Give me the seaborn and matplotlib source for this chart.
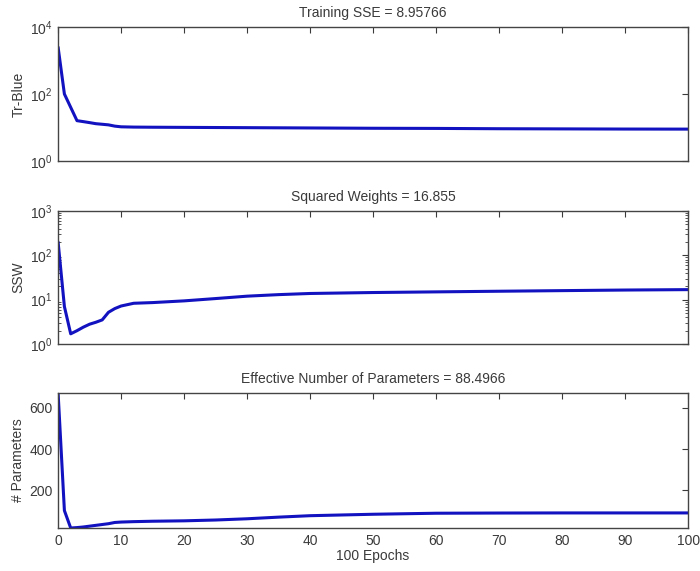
import matplotlib
matplotlib.use("Agg")
import matplotlib.pyplot as plt
import matplotlib.ticker as mticker
import seaborn as sns
import pandas as pd

epochs = [0, 1, 2, 3, 4, 5, 6, 7, 8, 9, 10, 12, 15, 20, 25, 30, 35, 40, 50, 60, 70, 80, 90, 100]
sse = [2500, 100, 40, 16, 15, 14, 13, 12.5, 12, 11, 10.5, 10.3, 10.2, 10.1, 10.0, 9.9, 9.8, 9.7, 9.5, 9.4, 9.2, 9.1, 9.0, 8.96]
ssw = [200, 7, 1.7, 2.0, 2.4, 2.8, 3.1, 3.5, 5.2, 6.3, 7.2, 8.3, 8.6, 9.4, 10.6, 12.0, 13.0, 13.8, 14.5, 15.0, 15.5, 16.0, 16.5, 16.855]
nparams = [673, 100, 15, 17, 20, 24, 28, 32, 36, 42, 44, 46, 48, 50, 54, 60, 68, 75, 82, 87, 88, 88.5, 88.5, 88.5]

titles = ["Training SSE = 8.95766", "Squared Weights = 16.855", "Effective Number of Parameters = 88.4966"]
ylabels = ["Tr-Blue", "SSW", "# Parameters"]
xlabel = "100 Epochs"
xticks = [0, 10, 20, 30, 40, 50, 60, 70, 80, 90, 100]

sns.set_style("white")
plt.rcParams['font.family'] = ['Liberation Sans', 'DejaVu Sans']
txt = "#3a3a3a"
plt.rcParams['text.color'] = txt
plt.rcParams['axes.labelcolor'] = txt
plt.rcParams['xtick.color'] = txt
plt.rcParams['ytick.color'] = txt

df = pd.DataFrame({"epoch": epochs, "sse": sse, "ssw": ssw, "np": nparams})

fig = plt.figure(figsize=(7.0, 5.71), dpi=100)
left, width = 0.083, 0.900
boxes = [(0.718, 0.2347), (0.3975, 0.233), (0.0753, 0.2364)]
cols = ["sse", "ssw", "np"]
line_color = "#1212c0"
fs = 10

for i, (b, h) in enumerate(boxes):
    ax = fig.add_axes([left, b, width, h])
    sns.lineplot(data=df, x="epoch", y=cols[i], ax=ax, color=line_color, linewidth=2.2)
    ax.set_xlim(0, 100)
    ax.set_xticks(xticks)
    ax.set_title(titles[i], fontsize=fs, color=txt, pad=7)
    ax.set_ylabel(ylabels[i], fontsize=fs, labelpad=3)
    for s in ax.spines.values():
        s.set_color("#444444")
        s.set_linewidth(1.0)
    ax.tick_params(direction="in", top=True, right=True, length=4, width=0.8, labelsize=fs, pad=4)
    ax.tick_params(which="minor", direction="in", left=True, top=True, right=True, length=2.5, width=0.6)
    if i == 0:
        ax.set_yscale("log")
        ax.set_ylim(1, 1e4)
        ax.set_yticks([1, 100, 1e4])
        ax.yaxis.set_major_formatter(mticker.LogFormatterMathtext())
        ax.yaxis.set_minor_locator(mticker.NullLocator())
    elif i == 1:
        ax.set_yscale("log")
        ax.set_ylim(1, 1e3)
        ax.set_yticks([1, 10, 100, 1000])
        ax.yaxis.set_major_formatter(mticker.LogFormatterMathtext())
        ax.yaxis.set_minor_locator(mticker.LogLocator(base=10, subs=range(2, 10)))
        ax.yaxis.set_minor_formatter(mticker.NullFormatter())
    else:
        ax.set_ylim(15, 673)
        ax.set_yticks([200, 400, 600])
    if i < 2:
        ax.set_xticklabels([])
        ax.set_xlabel("")
    else:
        ax.set_xlabel(xlabel, fontsize=fs, labelpad=1)

fig.savefig("out.png", dpi=100)
